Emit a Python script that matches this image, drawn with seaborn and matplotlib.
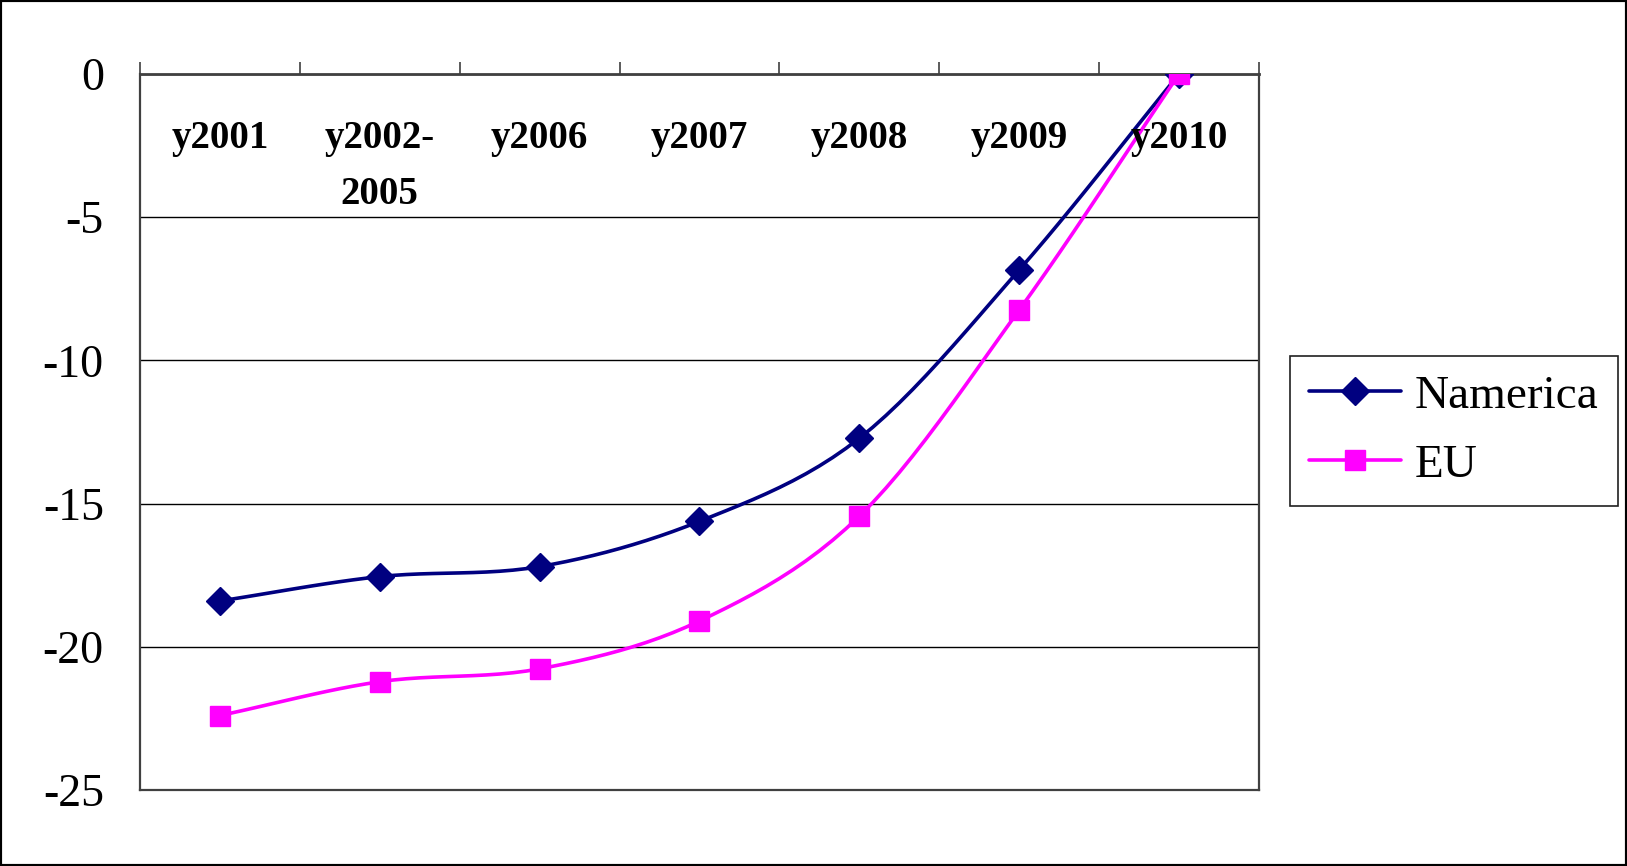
import numpy as np
import pandas as pd
import matplotlib
matplotlib.use("Agg")
import matplotlib.pyplot as plt
from matplotlib.lines import Line2D
from matplotlib.patches import Rectangle
import seaborn as sns

# Data
categories = ["y2001", "y2002-\n2005", "y2006", "y2007", "y2008", "y2009", "y2010"]
namerica = [-18.4, -17.55, -17.2, -15.62, -12.72, -6.84, 0.0]
eu = [-22.4, -21.22, -20.77, -19.1, -15.44, -8.24, 0.0]
series_names = ["Namerica", "EU"]
yticks = [0, -5, -10, -15, -20, -25]

NAVY = "#000080"
MAGENTA = "#FF00FF"

sns.set_style("white")
plt.rcParams["font.family"] = ["Liberation Serif", "DejaVu Serif"]
plt.rcParams["axes.unicode_minus"] = False
plt.rcParams["text.color"] = "black"


def smooth_curve(y, steps=12):
    """Catmull-Rom spline through the points (x = category index)."""
    y = np.asarray(y, dtype=float)
    x = np.arange(len(y), dtype=float)
    px = np.concatenate([[2 * x[0] - x[1]], x, [2 * x[-1] - x[-2]]])
    py = np.concatenate([[2 * y[0] - y[1]], y, [2 * y[-1] - y[-2]]])
    xs, ys = [], []
    for i in range(1, len(px) - 2):
        t = np.linspace(0, 1, steps, endpoint=False)
        for arr, out in ((px, xs), (py, ys)):
            p0, p1, p2, p3 = arr[i - 1], arr[i], arr[i + 1], arr[i + 2]
            out.extend(0.5 * ((2 * p1) + (-p0 + p2) * t
                              + (2 * p0 - 5 * p1 + 4 * p2 - p3) * t ** 2
                              + (-p0 + 3 * p1 - 3 * p2 + p3) * t ** 3))
    xs.append(x[-1])
    ys.append(y[-1])
    return np.array(xs), np.array(ys)


fig = plt.figure(figsize=(16.27, 8.66), dpi=100)
ax = fig.add_axes([0.0860, 0.0878, 0.6878, 0.8267])

idx = np.arange(len(categories))
styles = [(namerica, NAVY, "D", 14), (eu, MAGENTA, "s", 14)]
for (vals, color, marker, ms), name in zip(styles, series_names):
    sx, sy = smooth_curve(vals)
    sns.lineplot(x=sx, y=sy, ax=ax, color=color, lw=2.6, sort=False,
                 estimator=None, legend=False, zorder=3)
    ax.plot(idx, vals, linestyle="none", marker=marker, markersize=ms,
            color=color, markeredgecolor=color, zorder=4)

ax.set_xlim(-0.5, len(categories) - 0.5)
ax.set_ylim(-25, 0)

# Horizontal gridlines
ax.set_yticks(yticks)
ax.yaxis.grid(True, color="#000000", lw=1.0)
ax.set_axisbelow(True)
ax.tick_params(axis="y", direction="in", length=10, width=1.2, colors="#404040",
               labelsize=33, pad=26, labelcolor="black")
for lab in ax.get_yticklabels():
    lab.set_horizontalalignment("right")

# Category axis along y = 0 with boundary ticks pointing upward
ax.xaxis.set_ticks_position("top")
ax.set_xticks(np.arange(-0.5, len(categories), 1.0))
ax.set_xticklabels([])
ax.tick_params(axis="x", direction="out", length=9, width=1.2, colors="#404040")
for i, cat in enumerate(categories):
    ax.text(i, -1.62, cat, ha="center", va="top", fontsize=28, color="black",
            fontweight="bold", linespacing=1.65, multialignment="center")

for side, sp in ax.spines.items():
    sp.set_visible(True)
    sp.set_color("#404040")
    sp.set_linewidth(1.6)
ax.spines["top"].set_linewidth(2.0)

ax.set_xlabel("")
ax.set_ylabel("")

handles = [
    Line2D([], [], color=NAVY, lw=2.6, marker="D", markersize=14),
    Line2D([], [], color=MAGENTA, lw=2.6, marker="s", markersize=14),
]
leg = fig.legend(handles, series_names, loc="center",
                 bbox_to_anchor=(0.8935, 0.5025), fontsize=34, frameon=True,
                 fancybox=False, edgecolor="#202020", framealpha=1,
                 handlelength=1.95, handletextpad=0.3, labelspacing=0.55,
                 borderpad=0.4, borderaxespad=0)
leg.get_frame().set_linewidth(1.2)
for t in leg.get_texts():
    t.set_color("black")

fig.patches.append(Rectangle((0, 0), 1, 1, transform=fig.transFigure,
                             fill=False, edgecolor="black", lw=3))

fig.savefig("out.png", dpi=100)
